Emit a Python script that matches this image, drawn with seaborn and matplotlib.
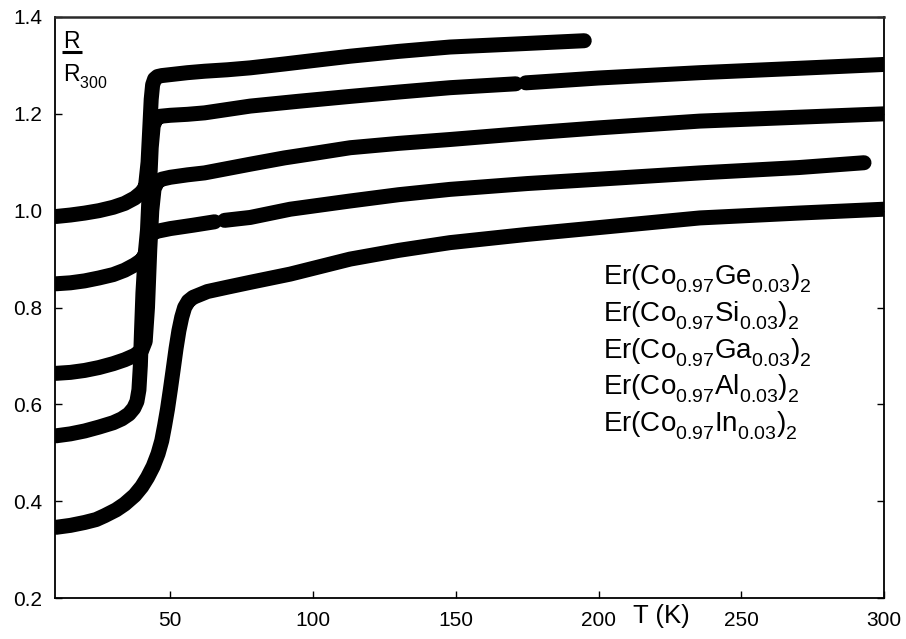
import numpy as np
import pandas as pd
import matplotlib
matplotlib.use("Agg")
import matplotlib.pyplot as plt
import seaborn as sns

# ---- data ----
ge_T = [10, 15, 20, 25, 30, 34, 37.5, 40, 41.3, 42.2, 42.8, 43.3, 43.8, 44.5, 45.5, 47, 50, 56, 62, 70, 78, 90, 100, 113, 130, 148, 170, 195]
ge_R = [0.988, 0.991, 0.995, 1.000, 1.007, 1.015, 1.026, 1.038, 1.050, 1.10, 1.17, 1.23, 1.260, 1.272, 1.277, 1.279, 1.281, 1.285, 1.288, 1.291, 1.295, 1.303, 1.310, 1.319, 1.329, 1.338, 1.344, 1.351]

si_T1 = [10, 15, 20, 25, 30, 34, 37.5, 40, 41.2, 42, 42.7, 43.3, 44, 45, 46.5, 50, 56, 62, 70, 78, 95, 113, 130, 148, 171]
si_R1 = [0.849, 0.851, 0.855, 0.861, 0.868, 0.877, 0.888, 0.898, 0.91, 0.96, 1.05, 1.13, 1.175, 1.190, 1.195, 1.197, 1.199, 1.202, 1.209, 1.216, 1.226, 1.236, 1.245, 1.254, 1.262]
si_T2 = [174.5, 200, 235.5, 270, 300]
si_R2 = [1.264, 1.274, 1.285, 1.294, 1.302]

ga_T = [10, 15, 20, 25, 30, 34, 37.5, 40, 41.2, 42, 42.8, 43.5, 44.3, 45.5, 47, 50, 56, 62, 70, 78, 90, 100, 113, 130, 148, 175, 200, 235.5, 270, 300]
ga_R = [0.664, 0.666, 0.670, 0.676, 0.684, 0.692, 0.701, 0.712, 0.73, 0.80, 0.92, 1.00, 1.045, 1.060, 1.065, 1.069, 1.074, 1.078, 1.087, 1.096, 1.109, 1.118, 1.130, 1.139, 1.147, 1.160, 1.171, 1.185, 1.193, 1.200]

al_T1 = [10, 15, 20, 25, 30, 33, 35.5, 37.2, 38.3, 39.0, 39.5, 39.9, 40.4, 41.0, 41.8, 43, 45, 50, 58, 65.5]
al_R1 = [0.535, 0.539, 0.545, 0.553, 0.562, 0.570, 0.580, 0.592, 0.606, 0.63, 0.68, 0.75, 0.83, 0.89, 0.93, 0.950, 0.957, 0.963, 0.970, 0.977]
al_T2 = [69, 78, 92, 113, 130, 148, 175, 200, 235.5, 270, 293]
al_R2 = [0.980, 0.986, 1.003, 1.020, 1.033, 1.044, 1.056, 1.065, 1.078, 1.089, 1.099]

in_T = [10, 15, 20, 24, 27, 31, 34, 37.5, 40, 42, 44, 45.7, 47, 48, 49, 50, 51, 52, 53, 54, 55, 56.3, 58, 60.5, 63, 70, 78, 92, 113, 130, 148, 175, 200, 235.5, 270, 300]
in_R = [0.346, 0.350, 0.356, 0.362, 0.370, 0.382, 0.394, 0.412, 0.430, 0.449, 0.472, 0.498, 0.525, 0.556, 0.590, 0.630, 0.672, 0.715, 0.752, 0.780, 0.800, 0.813, 0.821, 0.827, 0.833, 0.842, 0.852, 0.869, 0.900, 0.918, 0.934, 0.951, 0.965, 0.985, 0.995, 1.003]

labels = [r"Er(Co$_{0.97}$Ge$_{0.03}$)$_2$",
          r"Er(Co$_{0.97}$Si$_{0.03}$)$_2$",
          r"Er(Co$_{0.97}$Ga$_{0.03}$)$_2$",
          r"Er(Co$_{0.97}$Al$_{0.03}$)$_2$",
          r"Er(Co$_{0.97}$In$_{0.03}$)$_2$"]

x_ticks = [50, 100, 150, 200, 250, 300]
y_ticks = [0.2, 0.4, 0.6, 0.8, 1.0, 1.2, 1.4]

# ---- build table ----
segments = [("Ge", ge_T, ge_R), ("Si-a", si_T1, si_R1), ("Si-b", si_T2, si_R2),
            ("Ga", ga_T, ga_R), ("Al-a", al_T1, al_R1), ("Al-b", al_T2, al_R2),
            ("In", in_T, in_R)]
rows = []
for seg, T, R in segments:
    for t, r in zip(T, R):
        rows.append({"T": t, "R": r, "seg": seg})
df = pd.DataFrame(rows)

sns.set_style("ticks")
plt.rcParams["font.family"] = ["Liberation Sans", "DejaVu Sans"]
plt.rcParams["mathtext.fontset"] = "custom"
plt.rcParams["mathtext.rm"] = "Liberation Sans"
plt.rcParams["mathtext.it"] = "Liberation Sans:italic"
plt.rcParams["mathtext.bf"] = "Liberation Sans:bold"
plt.rcParams["text.color"] = "black"
plt.rcParams["xtick.color"] = "black"
plt.rcParams["ytick.color"] = "black"

# deeper subscripts, as in the reference
try:
    import matplotlib._mathtext as _mt
    _mt.FontConstantsBase.sub1 = 0.55
    _mt.FontConstantsBase.sub2 = 0.6
except Exception:
    pass

fig = plt.figure(figsize=(9.06, 6.39), dpi=100)
ax = fig.add_axes([55/906, 41/639, 829/906, 581/639])

sns.lineplot(data=df, x="T", y="R", units="seg", estimator=None, sort=False,
             color="black", linewidth=10.8, ax=ax,
             solid_capstyle="round", solid_joinstyle="round")

ax.set_xlim(9.6, 300)
ax.set_ylim(0.2, 1.4)
ax.set_xticks(x_ticks)
ax.set_yticks(y_ticks)
ax.set_xticklabels([str(v) for v in x_ticks])
ax.set_yticklabels([f"{v:.1f}" for v in y_ticks])
ax.set_xlabel("")
ax.set_ylabel("")

ax.tick_params(axis="x", direction="in", top=False, bottom=True, length=5, width=1,
               labelsize=15, pad=9, colors="black")
ax.tick_params(axis="y", direction="in", left=True, right=True, length=5, width=1,
               labelsize=15, pad=9, colors="black")

for side in ["left", "right", "bottom"]:
    ax.spines[side].set_linewidth(1.3)
    ax.spines[side].set_color("black")
ax.spines["top"].set_linewidth(1.8)
ax.spines["top"].set_color("#2a2a2a")

# axis label texts
ax.text(212, -0.043, "T (K)", transform=ax.get_xaxis_transform(), fontsize=18.5,
        ha="left", va="baseline")

ax.text(0.0093, 0.946, "R", transform=ax.transAxes, fontsize=16.5, ha="left", va="baseline")
ax.plot([0.008, 0.032], [0.939, 0.939], transform=ax.transAxes, color="black", lw=2.2,
        solid_capstyle="butt")
ax.text(0.0093, 0.889, r"R$_{300}$", transform=ax.transAxes, fontsize=16.5, ha="left", va="baseline")

# composition labels
label_y = [0.5387, 0.4756, 0.4126, 0.3494, 0.2863]
for lab, yy in zip(labels, label_y):
    ax.text(0.661, yy, lab, transform=ax.transAxes, fontsize=20, ha="left", va="baseline")

fig.savefig("out.png", dpi=100)
